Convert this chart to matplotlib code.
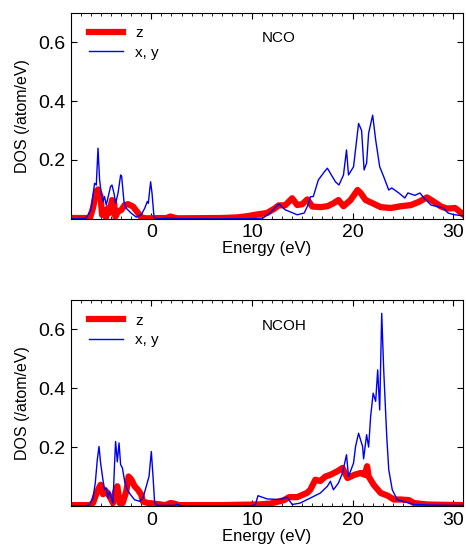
import matplotlib
matplotlib.use("Agg")
import matplotlib.pyplot as plt
from matplotlib.ticker import MultipleLocator

plt.rcParams['font.family'] = ['Liberation Sans', 'DejaVu Sans']

# --- NCO panel ---
nco_xy_e = [-8, -6.5, -6.0, -5.64, -5.47, -5.3, -5.14, -4.98, -4.81, -4.65, -4.48, -4.25, -4.05,
            -3.91, -3.71, -3.55, -3.31, -3.05, -2.95, -2.72, -2.49, -1.99, -1.49, -1.0, -0.66,
            -0.4, -0.3, -0.07, 0.07, 0.27, 0.5, 1.9, 2.4, 6.0, 10.0, 11.1, 11.8, 12.67, 13.3,
            14.5, 15.2, 15.65, 15.8, 16.1, 16.6, 17.2, 17.5, 18.0, 18.3, 18.65, 19.1, 19.4,
            19.6, 20.1, 20.6, 20.9, 21.15, 21.4, 21.6, 22.0, 22.3, 22.7, 23.1, 23.6, 23.9,
            24.6, 25.2, 25.5, 26.2, 26.7, 27.1, 27.8, 28.4, 29.0, 29.5, 30.0, 31.0]
nco_xy = [0.0, 0.002, 0.03, 0.121, 0.115, 0.24, 0.132, 0.087, 0.059, 0.076, 0.047, 0.081, 0.11,
          0.115, 0.087, 0.053, 0.087, 0.149, 0.145, 0.059, 0.036, 0.019, 0.006, 0.014, 0.036,
          0.059, 0.053, 0.126, 0.087, 0.005, 0.0, 0.003, 0.001, 0.0, 0.001, 0.003, 0.02, 0.051,
          0.031, 0.014, 0.02, 0.053, 0.075, 0.076, 0.132, 0.16, 0.172, 0.143, 0.126, 0.115,
          0.149, 0.234, 0.149, 0.177, 0.324, 0.30, 0.166, 0.19, 0.291, 0.352, 0.268, 0.177,
          0.143, 0.098, 0.105, 0.088, 0.071, 0.088, 0.08, 0.088, 0.071, 0.047, 0.042, 0.037,
          0.02, 0.015, 0.01]
nco_z_e = [-8, -6.1, -5.8, -5.47, -5.3, -5.04, -4.9, -4.7, -4.5, -4.31, -4.15, -3.91, -3.71,
           -3.58, -3.31, -2.99, -2.65, -2.32, -1.82, -1.32, -1.0, -0.5, 1.5, 1.9, 2.3, 2.6,
           6.9, 8.5, 9.5, 10.5, 11.5, 12.2, 12.67, 13.3, 14.0, 14.5, 15.0, 15.5, 16.0, 16.8,
           17.5, 18.1, 18.6, 19.1, 19.8, 20.5, 20.8, 21.3, 22.0, 22.8, 23.8, 24.8, 25.8,
           26.6, 27.4, 28.1, 28.8, 29.4, 30.2, 31.0]
nco_z = [0.003, 0.003, 0.037, 0.093, 0.1, 0.076, 0.014, 0.03, 0.005, 0.036, 0.02, 0.064, 0.059,
         0.007, 0.025, 0.03, 0.047, 0.05, 0.042, 0.02, 0.005, 0.002, 0.003, 0.008, 0.004, 0.002,
         0.003, 0.005, 0.009, 0.015, 0.02, 0.034, 0.046, 0.046, 0.07, 0.047, 0.05, 0.066,
         0.042, 0.04, 0.043, 0.053, 0.064, 0.043, 0.064, 0.098, 0.088, 0.064, 0.053, 0.04,
         0.037, 0.043, 0.047, 0.058, 0.073, 0.058, 0.042, 0.035, 0.037, 0.015]

# --- NCOH panel ---
ncoh_xy_e = [-8, -6.5, -6.14, -5.8, -5.57, -5.37, -5.2, -5.04, -4.81, -4.64, -4.48, -4.31, -4.15,
             -3.98, -3.81, -3.65, -3.55, -3.38, -3.21, -3.05, -2.88, -2.65, -2.39, -2.06, -1.66,
             -1.16, -0.83, -0.5, -0.23, 0.0, 0.17, 0.33, 0.6, 2.2, 2.55, 2.9, 10.0, 10.35,
             10.6, 11.5, 12.8, 13.5, 14.0, 14.8, 15.5, 15.8, 16.8, 17.5, 17.8, 18.1, 18.6,
             19.0, 19.4, 19.6, 20.1, 20.3, 20.6, 21.0, 21.1, 21.4, 21.6, 21.8, 22.05, 22.3,
             22.5, 22.7, 22.9, 23.1, 23.4, 23.6, 23.95, 24.45, 25.4, 26.1, 28.1, 31.0]
ncoh_xy = [0.0, 0.0, 0.004, 0.027, 0.078, 0.157, 0.202, 0.146, 0.089, 0.055, 0.06, 0.027, 0.05,
           0.027, 0.01, 0.146, 0.219, 0.15, 0.214, 0.14, 0.13, 0.084, 0.055, 0.038, 0.021,
           0.016, 0.027, 0.067, 0.1, 0.185, 0.1, 0.01, 0.002, 0.002, 0.006, 0.001, 0.001,
           0.005, 0.035, 0.024, 0.022, 0.03, 0.005, 0.01, 0.022, 0.027, 0.044, 0.067, 0.084,
           0.055, 0.078, 0.112, 0.174, 0.1, 0.146, 0.202, 0.247, 0.202, 0.16, 0.242, 0.2,
           0.304, 0.383, 0.355, 0.462, 0.326, 0.654, 0.46, 0.236, 0.123, 0.055, 0.021, 0.012,
           0.005, 0.003, 0.002]
ncoh_z_e = [-8, -6.1, -5.8, -5.37, -5.04, -4.81, -4.64, -4.38, -4.05, -3.81, -3.58, -3.38, -3.15,
            -2.85, -2.49, -2.26, -1.99, -1.66, -1.33, -1.0, -0.83, -0.33, 0.27, 1.4, 1.9, 2.3,
            2.7, 7.0, 8.5, 10.5, 11.8, 13.2, 13.7, 14.5, 15.5, 15.8, 16.3, 16.8, 17.3, 17.8,
            18.5, 19.0, 19.5, 20.2, 20.8, 21.2, 21.45, 21.6, 22.1, 22.8, 23.5, 24.1, 24.8,
            25.6, 26.1, 27.4, 31.0]
ncoh_z = [0.003, 0.003, 0.01, 0.05, 0.072, 0.04, 0.055, 0.045, 0.027, 0.01, 0.05, 0.067, 0.01,
          0.01, 0.05, 0.1, 0.09, 0.067, 0.055, 0.038, 0.015, 0.01, 0.008, 0.003, 0.01, 0.008,
          0.003, 0.003, 0.004, 0.005, 0.008, 0.02, 0.03, 0.03, 0.045, 0.055, 0.089, 0.085,
          0.1, 0.106, 0.118, 0.129, 0.095, 0.106, 0.112, 0.106, 0.135, 0.1, 0.072, 0.044,
          0.035, 0.022, 0.022, 0.02, 0.01, 0.005, 0.003]

panels = [
    ("NCO", nco_z_e, nco_z, nco_xy_e, nco_xy),
    ("NCOH", ncoh_z_e, ncoh_z, ncoh_xy_e, ncoh_xy),
]

fig = plt.figure(figsize=(4.66, 5.5), dpi=100)
boxes = [[0.152, 0.602, 0.842, 0.375], [0.152, 0.080, 0.842, 0.375]]

for box, (name, ze, zv, xye, xyv) in zip(boxes, panels):
    ax = fig.add_axes(box)
    ax.plot(ze, zv, color='#ff0000', lw=4.5, label='z', solid_joinstyle='round')
    ax.plot(xye, xyv, color='#0000ee', lw=1.0, label='x, y')
    ax.set_xlim(-8, 31)
    ax.set_ylim(0, 0.7)
    ax.set_xticks([0, 10, 20, 30])
    ax.xaxis.set_minor_locator(MultipleLocator(1))
    ax.set_yticks([0.2, 0.4, 0.6])
    ax.set_yticklabels(['0.2', '0.4', '0.6'])
    ax.tick_params(which='both', direction='in', top=True, right=True, labelsize=14)
    ax.tick_params(which='major', length=4, pad=4)
    ax.tick_params(which='minor', length=2)
    ax.set_xlabel('Energy (eV)', fontsize=12, labelpad=0)
    ax.set_ylabel('DOS (/atom/eV)', fontsize=11.5, labelpad=6)
    ax.text(0.487, 0.875, name, transform=ax.transAxes, fontsize=11,
            ha='left', va='center')
    ax.legend(loc='upper left', bbox_to_anchor=(0.02, 0.985), frameon=False, fontsize=11,
              handlelength=2.2, labelspacing=0.35, borderaxespad=0.3)

fig.savefig('out.png', dpi=100)
